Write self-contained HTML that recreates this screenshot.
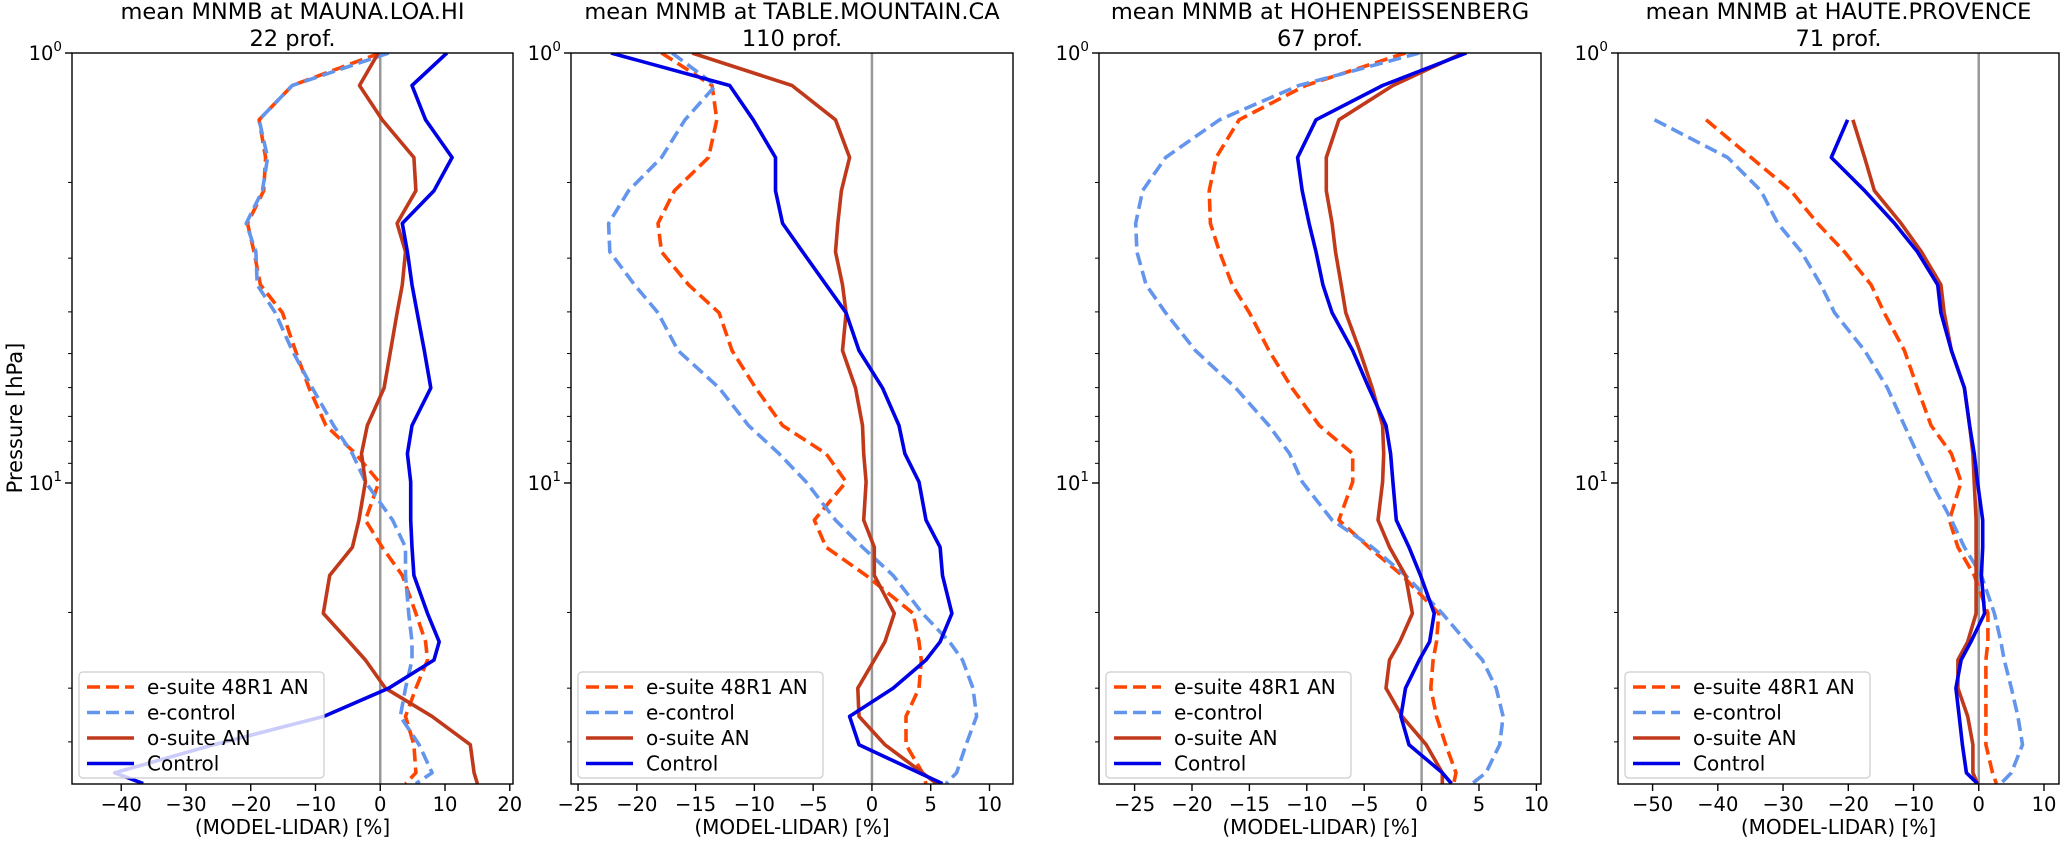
<!DOCTYPE html>
<html><head><meta charset="utf-8"><style>
html,body{margin:0;padding:0;background:#fff}
svg{display:block;font-family:"DejaVu Sans","Liberation Sans",sans-serif}
</style></head><body>
<svg id="fig" width="2066" height="843" viewBox="0 0 2066 843" xmlns="http://www.w3.org/2000/svg">
<text x="22" y="418" font-size="21" text-anchor="middle" transform="rotate(-90 22 418)">Pressure [hPa]</text>
</svg>
<script>
// shared pressure levels (hPa)
const pressures = [1.0,1.19,1.43,1.75,2.09,2.49,2.90,3.46,4.02,4.92,6.01,7.35,8.55,9.94,12.2,14.1,16.4,20.1,23.4,25.8,30.0,34.9,40.6,47.2,50];
const seriesNames = ["e-suite 48R1 AN","e-control","o-suite AN","Control"];
const stations = ["MAUNA.LOA.HI","TABLE.MOUNTAIN.CA","HOHENPEISSENBERG","HAUTE.PROVENCE"];
const profileCounts = [22,110,67,71];
const xTicks1 = [-40,-30,-20,-10,0,10,20];
const xTicks2 = [-25,-20,-15,-10,-5,0,5,10];
const xTicks3 = [-25,-20,-15,-10,-5,0,5,10];
const xTicks4 = [-50,-40,-30,-20,-10,0,10];
// panel 1
const p1EsuiteVals = [0,-13.6,-18.7,-17.7,-18,-20.5,-19.5,-18.5,-15.1,-13.1,-11,-8.4,-3.8,-0.2,-2.3,0.3,3.4,5.5,7,7.3,5.5,3.9,5.2,5.5,3.9];
const p1EcontrolVals = [1.3,-13.6,-18.7,-17.4,-18.2,-20.7,-19.2,-19,-16.2,-13.6,-10.5,-7.2,-4.3,-2.3,1.9,3.9,3.9,4.4,4.9,4.9,3.9,3.1,6,8,5.5];
const p1OsuiteVals = [-0.3,-3.2,0.3,5.2,5.5,2.6,3.9,3.4,2.6,1.6,0.6,-2,-2.9,-2.3,-3.3,-4.3,-7.8,-8.8,-4.8,-2.3,0.8,8,13.9,14.5,15];
const p1ControlVals = [10.3,4.9,7,11.1,8.3,3.4,4.2,4.9,5.7,6.8,7.8,4.9,4.2,4.7,4.7,4.9,5.2,7.3,9.1,8.3,1.3,-8.7,-25.7,-41,-36.6];
// panel 2
const p2EsuiteVals = [-17.9,-13.6,-13.2,-13.9,-16.8,-18.2,-17.9,-15.6,-13,-11.9,-9.9,-7.6,-3.9,-2.2,-4.9,-3.9,-0.5,3.5,4,4.2,4,2.9,2.9,4.3,4.6];
const p2EcontrolVals = [-17,-13.3,-15.9,-17.9,-20.7,-22.4,-22.3,-20.2,-18.2,-16.5,-13,-10.5,-7.9,-5.6,-3.1,-0.8,1.8,4.3,6.6,7.7,8.6,8.9,8,7.2,6.3];
const p2OsuiteVals = [-15.3,-6.8,-3.1,-1.9,-2.6,-2.9,-3.1,-2.5,-2.2,-2.5,-1.4,-0.8,-0.7,-0.5,-0.7,0.2,0.2,1.9,1.1,0.2,-1.2,-1.1,1.1,4.3,5.5];
const p2ControlVals = [-22.2,-12.1,-10.1,-8.2,-8.2,-7.6,-5.9,-3.9,-2.2,-1.1,0.9,2.3,2.8,4,4.6,5.8,6,6.8,5.8,4.6,1.8,-1.9,-1.1,4,6];
// panel 3
const p3EsuiteVals = [-1.4,-10.1,-15.9,-17.9,-18.5,-18.4,-17.6,-16.5,-15,-13.3,-11.3,-8.9,-6,-6,-7.2,-4.6,-1.7,1.5,1.3,1,0.8,1.3,2.1,3,2.8];
const p3EcontrolVals = [-0.2,-10.7,-17.6,-22.3,-24.3,-24.9,-24.8,-24,-22.3,-19.7,-16.2,-13.3,-11.5,-10.4,-7.8,-4.3,-1.4,1.8,3.9,5.3,6.5,7.1,6.8,5.6,4.4];
const p3OsuiteVals = [3.6,-2.5,-7.2,-8.3,-8.3,-7.8,-7.5,-7,-6.6,-5.4,-4.3,-3.4,-3.3,-3.4,-3.8,-2.8,-1.4,-0.8,-1.9,-2.8,-3.1,-1.7,0.4,1.8,1.8];
const p3ControlVals = [3.9,-3.4,-9.2,-10.8,-10.4,-9.8,-9.2,-8.6,-7.8,-6,-4.6,-3.1,-2.7,-2.5,-2.2,-1.1,-0.1,1.1,0.7,-0.2,-1.4,-1.8,-1.1,1.8,2.6];
// panel 4
const p4EsuiteVals = [null,null,-41.8,-34.9,-28.8,-24.7,-20.6,-16.5,-14.5,-11.4,-9.4,-7.3,-4.2,-2.7,-4.5,-3.2,-0.7,1.4,1.4,1.1,1.1,1.1,1.1,2.1,2.7];
const p4EcontrolVals = [null,null,-49.7,-38.5,-33.4,-30.8,-27.2,-24.2,-22.1,-17.5,-14,-11.4,-9.4,-7.3,-4.2,-2.2,0.4,2.4,3.4,3.9,5,6,6.7,5,3.4];
const p4OsuiteVals = [null,null,-19.3,-17.5,-16,-11.9,-8.8,-5.8,-5.3,-4.2,-2.2,-1.4,-0.9,-0.7,-0.4,-0.4,-0.4,-0.4,-1.7,-3.2,-3.2,-1.7,-0.9,-0.9,-0.2];
const p4ControlVals = [null,null,-20.1,-22.6,-17.5,-12.9,-9.4,-6.3,-5.8,-4.2,-2.2,-1.4,-0.7,-0.2,0.6,0.6,0.4,0.9,-1.2,-2.7,-3.5,-3,-2.5,-1.9,-0.2];

const NS="http://www.w3.org/2000/svg";
const svg=document.getElementById('fig');
const TOP=53,BOT=784,DEC=430;
const colors=["#ff4500","#6495ed","#c0391b","#0000e6"];
const dashed=[true,true,false,false];
const slugs=["e-suite","e-control","o-suite","control"];
const panels=[
 {l:72,r:513,xmin:-47.6,xmax:20.5,ticks:xTicks1,data:[p1EsuiteVals,p1EcontrolVals,p1OsuiteVals,p1ControlVals]},
 {l:571,r:1013,xmin:-25.6,xmax:12.0,ticks:xTicks2,data:[p2EsuiteVals,p2EcontrolVals,p2OsuiteVals,p2ControlVals]},
 {l:1099,r:1541,xmin:-28.1,xmax:10.4,ticks:xTicks3,data:[p3EsuiteVals,p3EcontrolVals,p3OsuiteVals,p3ControlVals]},
 {l:1618,r:2059,xmin:-55.3,xmax:12.3,ticks:xTicks4,data:[p4EsuiteVals,p4EcontrolVals,p4OsuiteVals,p4ControlVals]}
];
function mk(tag,attrs,parent){const e=document.createElementNS(NS,tag);for(const k in attrs)e.setAttribute(k,attrs[k]);(parent||svg).appendChild(e);return e;}
function yScale(p){return TOP+DEC*Math.log10(p);}
panels.forEach((P,pi)=>{
 const xs=v=>P.l+(v-P.xmin)/(P.xmax-P.xmin)*(P.r-P.l);
 const g=mk('g',{});
 
 
 const cid='clip'+pi;
 const cp=mk('clipPath',{id:cid},g);mk('rect',{x:P.l,y:TOP,width:P.r-P.l,height:BOT-TOP},cp);
 // title
 const t1=mk('text',{x:(P.l+P.r)/2,y:19,'font-size':22.5,'text-anchor':'middle'},g);
 t1.textContent='mean MNMB at '+stations[pi];
 
 
 const t2=mk('text',{x:(P.l+P.r)/2,y:46,'font-size':22.5,'text-anchor':'middle'},g);
 t2.textContent=profileCounts[pi]+' prof.';
 
 
 // zero line
 const z=mk('line',{x1:xs(0),x2:xs(0),y1:TOP,y2:BOT,stroke:'#999',"stroke-width":2.5},g);
 
 
 // series
 const cg=mk('g',{'clip-path':'url(#'+cid+')'},g);
 P.data.forEach((vals,si)=>{
  let d='';let pen=false;
  vals.forEach((v,i)=>{if(v===null){pen=false;return;}d+=(pen?'L':'M')+xs(v).toFixed(1)+' '+yScale(pressures[i]).toFixed(1)+' ';pen=true;});
  const path=mk('path',{d:d,fill:'none',stroke:colors[si],'stroke-width':3.6,'stroke-linejoin':'round'},cg);
  if(dashed[si])path.setAttribute('stroke-dasharray','13 6');
  
  
 });
 // frame
 const fr=mk('rect',{x:P.l,y:TOP,width:P.r-P.l,height:BOT-TOP,fill:'none',stroke:'#000','stroke-width':1.4},g);
 
 
 // x ticks
 P.ticks.forEach(v=>{
  const x=xs(v);
  mk('line',{x1:x,x2:x,y1:BOT,y2:BOT+7,stroke:'#000','stroke-width':1.4},g);
  const tl=mk('text',{x:x,y:811,'font-size':19.5,'text-anchor':'middle'},g);
  tl.textContent=(v<0?'\u2212'+(-v):''+v);
  
  
 });
 const xl=mk('text',{x:(P.l+P.r)/2,y:834,'font-size':20,'text-anchor':'middle'},g);
 xl.textContent='(MODEL-LIDAR) [%]';
 
 
 // y ticks
 [1,10].forEach((p,k)=>{
  const y=yScale(p);
  mk('line',{x1:P.l-7,x2:P.l,y1:y,y2:y,stroke:'#000','stroke-width':1.4},g);
  const yl=mk('text',{x:P.l-10,y:y+7,'font-size':19.5,'text-anchor':'end'},g);
  yl.innerHTML='10<tspan dy="-9" font-size="13.5">'+k+'</tspan>';
  
  
 });
 [2,3,4,5,6,7,8,9,20,30,40].forEach(p=>{const y=yScale(p);mk('line',{x1:P.l-4,x2:P.l,y1:y,y2:y,stroke:'#000','stroke-width':1},g);});
 // legend
 const lg=mk('g',{},g);
 
 
 const lx=P.l+7;
 mk('rect',{x:lx,y:672,width:245,height:106,rx:4,fill:'#fff','fill-opacity':0.8,stroke:'#ccc','stroke-width':1.2},lg);
 seriesNames.forEach((n,si)=>{
  const y=687+si*25.5;
  const ln=mk('line',{x1:lx+8,x2:lx+55,y1:y,y2:y,stroke:colors[si],'stroke-width':3.6},lg);
  if(dashed[si])ln.setAttribute('stroke-dasharray','13 6');
  const tx=mk('text',{x:lx+68,y:y+7,'font-size':20},lg);
  tx.textContent=n;
  
  
 });
});
</script>
</body></html>
